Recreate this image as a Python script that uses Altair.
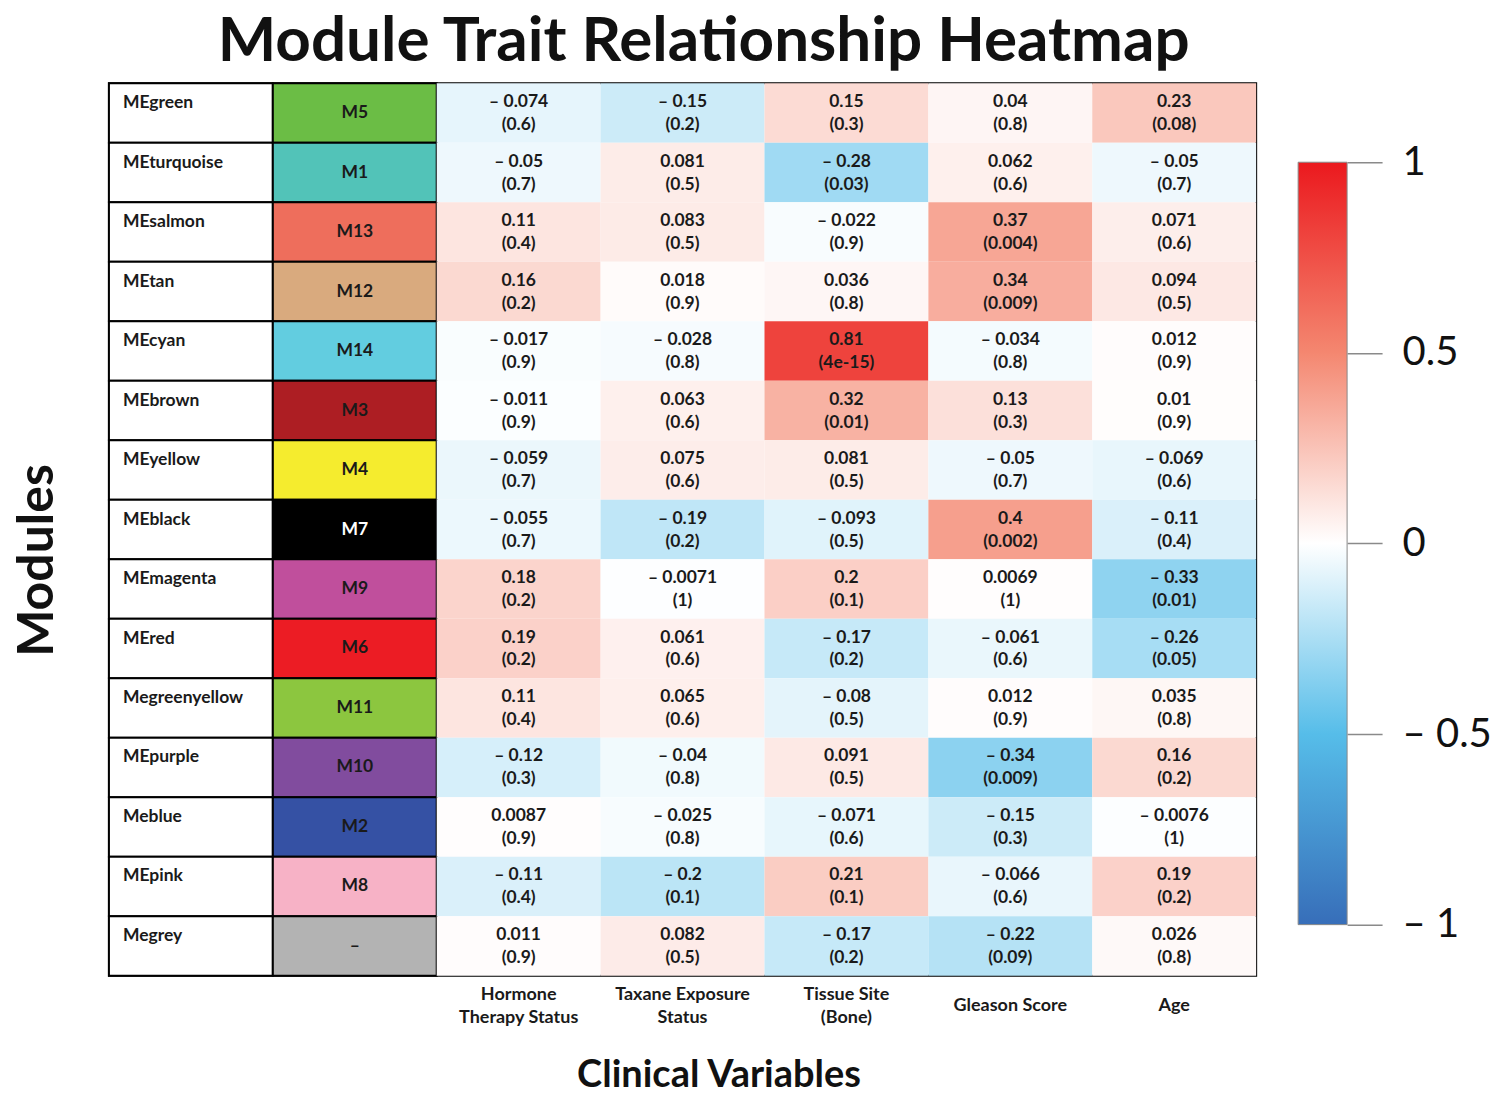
import altair as alt
import pandas as pd

# ---------------- data ----------------
modules = ["MEgreen", "MEturquoise", "MEsalmon", "MEtan", "MEcyan", "MEbrown", "MEyellow",
           "MEblack", "MEmagenta", "MEred", "Megreenyellow", "MEpurple", "Meblue", "MEpink", "Megrey"]
module_ids = ["M5", "M1", "M13", "M12", "M14", "M3", "M4", "M7", "M9", "M6", "M11", "M10", "M2", "M8", "–"]
module_colors = ["#6bbd45", "#52c3b8", "#ee6e5c", "#d9aa7e", "#62cde0", "#ad1e23", "#f5ec2e",
                 "#000000", "#c04f9c", "#ec1c24", "#8cc63f", "#814c9e", "#3551a4", "#f7b2c6", "#b3b3b3"]
module_text_colors = ["#1a1a1a"] * 7 + ["#ffffff"] + ["#1a1a1a"] * 7

traits = ["Hormone\nTherapy Status", "Taxane Exposure\nStatus", "Tissue Site\n(Bone)",
          "Gleason Score", "Age"]

corr_hormone = [-0.074, -0.05, 0.11, 0.16, -0.017, -0.011, -0.059, -0.055, 0.18, 0.19, 0.11, -0.12, 0.0087, -0.11, 0.011]
p_hormone = [0.6, 0.7, 0.4, 0.2, 0.9, 0.9, 0.7, 0.7, 0.2, 0.2, 0.4, 0.3, 0.9, 0.4, 0.9]
corr_taxane = [-0.15, 0.081, 0.083, 0.018, -0.028, 0.063, 0.075, -0.19, -0.0071, 0.061, 0.065, -0.04, -0.025, -0.2, 0.082]
p_taxane = [0.2, 0.5, 0.5, 0.9, 0.8, 0.6, 0.6, 0.2, 1, 0.6, 0.6, 0.8, 0.8, 0.1, 0.5]
corr_tissue = [0.15, -0.28, -0.022, 0.036, 0.81, 0.32, 0.081, -0.093, 0.2, -0.17, -0.08, 0.091, -0.071, 0.21, -0.17]
p_tissue = [0.3, 0.03, 0.9, 0.8, 4e-15, 0.01, 0.5, 0.5, 0.1, 0.2, 0.5, 0.5, 0.6, 0.1, 0.2]
corr_gleason = [0.04, 0.062, 0.37, 0.34, -0.034, 0.13, -0.05, 0.4, 0.0069, -0.061, 0.012, -0.34, -0.15, -0.066, -0.22]
p_gleason = [0.8, 0.6, 0.004, 0.009, 0.8, 0.3, 0.7, 0.002, 1, 0.6, 0.9, 0.009, 0.3, 0.6, 0.09]
corr_age = [0.23, -0.05, 0.071, 0.094, 0.012, 0.01, -0.069, -0.11, -0.33, -0.26, 0.035, 0.16, -0.0076, 0.19, 0.026]
p_age = [0.08, 0.7, 0.6, 0.5, 0.9, 0.9, 0.6, 0.4, 0.01, 0.05, 0.8, 0.2, 1, 0.2, 0.8]

corr_all = [corr_hormone, corr_taxane, corr_tissue, corr_gleason, corr_age]
p_all = [p_hormone, p_taxane, p_tissue, p_gleason, p_age]

scale_domain = [-1, -0.5, 0, 0.5, 1]
scale_colors = ["#376eb9", "#56bde9", "#ffffff", "#f48770", "#eb191e"]

# ---------------- tables ----------------
mod_df = pd.DataFrame({
    "module": modules, "mid": module_ids, "hex": module_colors, "tcol": module_text_colors,
    "cname": "_name", "cmod": "_module",
})
rows = []
for t, cs, ps in zip(traits, corr_all, p_all):
    for m, c, p in zip(modules, cs, ps):
        rows.append({"module": m, "trait": t, "corr": c, "p": p})
cell_df = pd.DataFrame(rows)

xdom = ["_name", "_module"] + traits
FONT = "Lato"

label_style = dict(ticks=False, tickSize=0, domain=False, labelBaseline="middle",
                   labelFont=FONT, labelFontSize=18, labelFontWeight="bold", labelColor="#1a1a1a",
                   labelLineHeight=23, labelAngle=0, labelLimit=300, orient="bottom")
# two-line trait labels (with the axis title)
x_axis_two = alt.Axis(
    labelExpr="indexof(datum.value, '\\n') < 0 ? '' : split(datum.value, '\\n')",
    labelPadding=19,
    title="Clinical Variables", titleFont=FONT, titleFontSize=38, titleFontWeight="bold",
    titleColor="#111111", titleX=610, titleY=100, titleBaseline="middle",
    **label_style)
# one-line trait labels, vertically centred on the two-line ones
x_axis_one = alt.Axis(
    labelExpr="(indexof(datum.value, '\\n') >= 0 || datum.value[0] == '_') ? '' : datum.value",
    labelPadding=30, title=None, **label_style)

y_axis = alt.Axis(
    labels=False, ticks=False, domain=False,
    title="Modules", titleFont=FONT, titleFontSize=50, titleFontWeight="bold",
    titleColor="#111111", titlePadding=46, titleY=477,
)


def X(field, axis=None, **kw):
    return alt.X(field, type="nominal", scale=alt.Scale(domain=xdom, paddingInner=0, paddingOuter=0),
                 axis=axis, **kw)


def Y(**kw):
    return alt.Y("module:N", scale=alt.Scale(domain=modules, paddingInner=0, paddingOuter=0),
                 axis=y_axis, **kw)


name_rect = alt.Chart(mod_df).mark_rect(fill="white", stroke="black", strokeWidth=2).encode(
    x=X("cname"), y=Y())
mod_rect = alt.Chart(mod_df).mark_rect(stroke="black", strokeWidth=2).encode(
    x=X("cmod"), y=Y(), color=alt.Color("hex:N", scale=None))
cell_rect = alt.Chart(cell_df).mark_rect().encode(
    x=X("trait", axis=x_axis_two), y=Y(),
    color=alt.Color("corr:Q", scale=alt.Scale(domain=scale_domain, range=scale_colors,
                                              interpolate="rgb"), legend=None))

name_text = alt.Chart(mod_df).mark_text(
    align="left", baseline="middle", dx=14, dy=-10, font=FONT, fontSize=17.5, fontWeight="bold",
    color="#1a1a1a").encode(x=X("cname", bandPosition=0), y=Y(), text="module:N")
mod_text = alt.Chart(mod_df).mark_text(
    align="center", baseline="middle", font=FONT, fontSize=17.5, fontWeight="bold").encode(
    x=X("cmod"), y=Y(), text="mid:N", color=alt.Color("tcol:N", scale=None))
corr_text = alt.Chart(cell_df).transform_calculate(
    lab="replace(format(datum.corr, '.2~g'), '−', '– ')").mark_text(
    align="center", baseline="middle", dy=-11, font=FONT, fontSize=17.5, fontWeight="bold",
    color="#1a1a1a").encode(x=X("trait", axis=x_axis_one), y=Y(), text="lab:N")
p_text = alt.Chart(cell_df).transform_calculate(
    lab="'(' + format(datum.p, '.1~g') + ')'").mark_text(
    align="center", baseline="middle", dy=12, font=FONT, fontSize=17.5, fontWeight="bold",
    color="#1a1a1a").encode(x=X("trait"), y=Y(), text="lab:N")

heat = alt.layer(name_rect, mod_rect, cell_rect, name_text, mod_text, corr_text, p_text).resolve_scale(
    color="independent").resolve_axis(x="independent").properties(
    width=1148, height=893, view=alt.ViewBackground(stroke="black", strokeWidth=2))

# ---------------- colour bar ----------------
stops = [{"offset": (d + 1) / 2, "color": c} for d, c in zip(scale_domain, scale_colors)]
gradient = {"gradient": "linear", "x1": 0, "y1": 1, "x2": 0, "y2": 0, "stops": stops}
bar_df = pd.DataFrame({"lo": [scale_domain[0]], "hi": [scale_domain[-1]]})
cbar = alt.Chart(bar_df).mark_rect(color=gradient, stroke="#8a8a8a", strokeWidth=1).encode(
    y=alt.Y("lo:Q", scale=alt.Scale(domain=[-1.134, 1.207], nice=False, zero=False),
            axis=alt.Axis(orient="right", values=scale_domain, domain=False, grid=False,
                          tickColor="#8a8a8a", tickSize=35, tickWidth=1.5,
                          labelFont=FONT, labelFontSize=40, labelColor="#111111",
                          labelPadding=20, labelBaseline="middle",
                          labelExpr="datum.value < 0 ? '– ' + format(-datum.value, '~g') : format(datum.value, '~g')",
                          title=None)),
    y2="hi:Q",
).properties(width=49, height=893, view=alt.ViewBackground(stroke=None))

chart = alt.hconcat(heat, cbar, spacing=40).properties(
    title=alt.Title("Module Trait Relationship Heatmap", font=FONT, fontSize=62, fontWeight="bold",
                    color="#111111", anchor="middle", offset=7, dx=-48),
    padding={"left": 4, "top": 3, "right": 0, "bottom": 0},
).configure_view(stroke=None)

chart.save("out.html", embed_options={"renderer": "svg", "actions": False})
